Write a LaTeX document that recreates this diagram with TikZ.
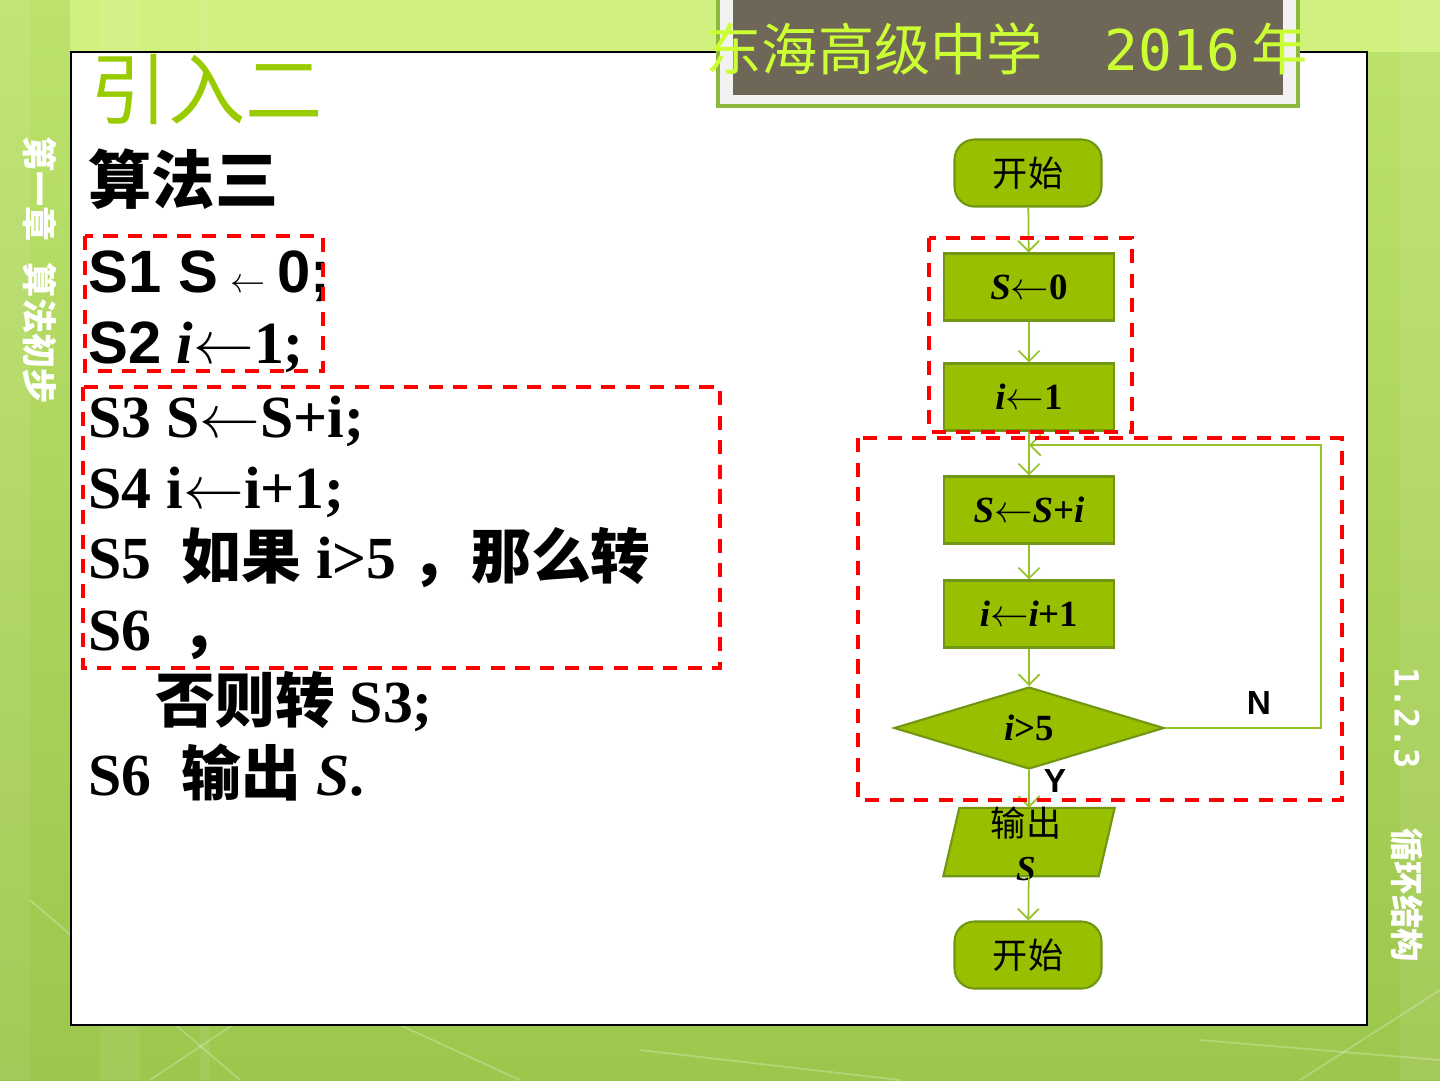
\documentclass[tikz,border=0pt]{standalone}
\usepackage{fontspec}
\setmainfont{Liberation Serif}
\newfontfamily\arial{Liberation Sans}
\newfontfamily\cjk{Noto Sans CJK SC}
\newfontfamily\mono{DejaVu Sans Mono}
\usetikzlibrary{shapes.geometric,arrows.meta}
\definecolor{boxgreen}{RGB}{153,192,0}
\definecolor{boxedge}{RGB}{112,150,20}
\definecolor{linegreen}{RGB}{150,195,40}
\definecolor{titlegreen}{RGB}{153,204,0}
\definecolor{lime}{RGB}{204,255,51}
\definecolor{hdrbrown}{RGB}{110,102,87}
\definecolor{bgtop}{RGB}{188,226,108}
\definecolor{bgbot}{RGB}{156,198,76}
\definecolor{bandlight}{RGB}{208,240,128}

\begin{document}
\begin{tikzpicture}[x=0.1mm,y=-0.1mm,
	proc/.style={draw=boxedge,fill=boxgreen,line width=0.6pt,minimum width=17mm,minimum height=6.7mm,inner sep=0pt,font=\fontsize{10.5}{12}\selectfont\bfseries},
	term/.style={proc,rounded corners=2mm,minimum width=14.7mm,font=\fontsize{10}{12}\selectfont\cjk},
	dec/.style={proc,diamond,minimum width=27mm,minimum height=8.2mm},
	flow/.style={draw=linegreen,line width=0.5pt,-{Straight Barb[length=3pt,width=6pt]}},
	redbox/.style={draw=red,line width=1.2pt,dash pattern=on 4pt off 3pt},
	line/.style={anchor=base west,inner sep=0pt,font=\fontsize{17}{20}\selectfont\bfseries}]
	\clip (0,0) rectangle (1440,1080);
	% background
	\shade[top color=bgtop,bottom color=bgbot] (0,0) rectangle (1440,1080);
	\fill[bandlight] (70,0) rectangle (1440,52);
	\foreach \a/\b in {0/30, 100/140, 200/210, 1400/1440}
		\fill[white,opacity=0.08] (\a,0) rectangle (\b,1080);
	\draw[white,opacity=0.25,line width=0.5pt] (30,900) -- (240,1080);
	\draw[white,opacity=0.25,line width=0.5pt] (150,1080) -- (330,960);
	\draw[white,opacity=0.25,line width=0.5pt] (640,1050) -- (900,1080);
	\draw[white,opacity=0.25,line width=0.5pt] (400,1025) -- (520,1080);
	\draw[white,opacity=0.25,line width=0.5pt] (1200,1040) -- (1440,1060);
	\draw[white,opacity=0.25,line width=0.5pt] (1300,1080) -- (1440,990);
	% panel
	\draw[fill=white,line width=0.6pt] (71,52) rectangle (1367,1025);
	% header
	\draw[fill={rgb,255:red,242;green,242;blue,242},draw={rgb,255:red,140;green,185;blue,60},line width=1pt] (718,-10) rectangle (1298,106);
	\fill[hdrbrown] (733,0) rectangle (1283,95);
	\node[anchor=base west,inner sep=0pt,text=lime,font=\fontsize{16}{18}\selectfont] (school) at (705,70) {\cjk 东海高级中学\hspace{1.1em}{\mono 2016}\hspace{0.2em}年};
	% side texts
	\node[rotate=-90,text=white,font=\fontsize{10}{12}\selectfont\cjk\bfseries] (chap) at (40,270) {第一章\hspace{0.6em}算法初步};
	\node[rotate=-90,text=white,font=\fontsize{9.5}{11}\selectfont\bfseries] (sect) at (1407,815) {{\mono 1.2.3}\hspace{1.8em}{\cjk 循环结构}};
	% title and steps
	\node[anchor=base west,inner sep=0pt,text=titlegreen,font=\fontsize{22}{24}\selectfont\cjk] (title) at (90,118) {引入二};
	\node[line,font=\fontsize{18}{20}\selectfont\cjk\bfseries] (alg) at (88,203) {算法三};
	\node[line] (s1) at (88,292) {\arial S1 S\hspace{0.2em}{\fontsize{10}{12}\selectfont$\leftarrow$}\hspace{0.2em}0;};
	\node[line] (s2) at (88,363) {{\arial S2} \textit{i}$\leftarrow$1;};
	\node[line] (s3) at (88,437) {S3 S$\leftarrow$S+i;};
	\node[line] (s4) at (88,508) {S4 i$\leftarrow$i+1;};
	\node[line] (s5) at (88,578) {S5\ \ {\cjk 如果} i>5\ {\cjk ，那么转}};
	\node[line] (s6) at (88,650) {S6\ \ {\cjk ，}};
	\node[line] (s7) at (155,722) {{\cjk 否则转} S3;};
	\node[line] (s8) at (88,795) {S6\ \ {\cjk 输出} \textit{S}.};
	% flowchart
	\node[term] (start) at (1028,173) {开始};
	\node[proc] (szero) at (1029,287) {\textit{S}$\leftarrow$0};
	\node[proc] (ione) at (1029,397) {\textit{i}$\leftarrow$1};
	\node[proc] (sum) at (1029,510) {\textit{S}$\leftarrow$\textit{S}+\textit{i}};
	\node[proc] (inc) at (1029,614) {\textit{i}$\leftarrow$\textit{i}+1};
	\node[dec] (test) at (1029,728) {\textit{i}>5};
	\node[minimum width=17mm,minimum height=6.7mm,inner sep=0pt] (out) at (1029,842) {};
	\draw[draw=boxedge,fill=boxgreen,line width=0.6pt] ([xshift=1.6mm]out.north west) -- (out.north east) -- ([xshift=-1.6mm]out.south east) -- (out.south west) -- cycle;
	\node[font=\fontsize{10}{12.5}\selectfont,align=center,inner sep=0pt] (outtxt) at (1026,844) {{\cjk 输出}\\\textbf{\textit{S}}};
	\node[term] (stop) at (1028,955) {开始};
	\coordinate (join) at (1029,445);
	\draw[flow] (start) -- (szero);
	\draw[flow] (szero) -- (ione);
	\draw[flow] (ione) -- (sum);
	\draw[flow] (sum) -- (inc);
	\draw[flow] (inc) -- (test);
	\draw[flow] (test) -- (out);
	\draw[flow] (out) -- (stop);
	\draw[flow] (test.east) -- ++(156,0) |- (join);
	\node[font=\fontsize{9.5}{11}\selectfont\arial\bfseries] (nlab) at (1259,703) {N};
	\node[font=\fontsize{9.5}{11}\selectfont\arial\bfseries] (ylab) at (1055,781) {Y};
	% dashed frames
	\draw[redbox] (85,236) rectangle (323,371);
	\draw[redbox] (83,387) rectangle (720,668);
	\draw[redbox] (929,238) rectangle (1132,432);
	\draw[redbox] (858,438) rectangle (1342,800);
\end{tikzpicture}
\end{document}
